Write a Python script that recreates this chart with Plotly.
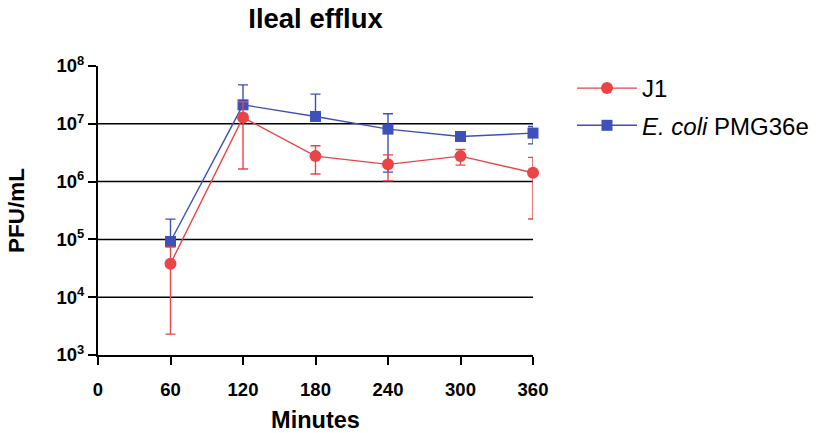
import plotly.graph_objects as go

minutes = [60, 120, 180, 240, 300, 360]

j1_mean = [3.8e4, 1.29e7, 2.76e6, 1.99e6, 2.76e6, 1.42e6]
j1_upper = [7.4e4, 2.4e7, 4.17e6, 2.9e6, 3.6e6, 2.63e6]
j1_lower = [2.3e3, 1.65e6, 1.35e6, 1.03e6, 1.93e6, 2.25e5]

ec_mean = [9.2e4, 2.13e7, 1.34e7, 8.09e6, 6.03e6, 6.9e6]
ec_upper = [2.24e5, 4.72e7, 3.26e7, 1.49e7, 6.6e6, 9.0e6]
ec_lower = [9.2e4, 2.13e7, 1.34e7, 1.46e6, 5.5e6, 4.5e6]

x_ticks = [0, 60, 120, 180, 240, 300, 360]
y_tickvals = [1e3, 1e4, 1e5, 1e6, 1e7, 1e8]
y_ticktext = ["<b>10<sup>3</sup></b>", "<b>10<sup>4</sup></b>", "<b>10<sup>5</sup></b>",
              "<b>10<sup>6</sup></b>", "<b>10<sup>7</sup></b>", "<b>10<sup>8</sup></b>"]
x_ticktext = ["<b>%d</b>" % v for v in x_ticks]
grid_vals = [1e4, 1e5, 1e6, 1e7]

RED = "#EA4446"
BLUE = "#3D51B8"
FONT = "Liberation Sans, Arial, sans-serif"

fig = go.Figure()

for g in grid_vals:
    fig.add_shape(type="line", xref="x", yref="y", x0=0, x1=360, y0=g, y1=g,
                  line=dict(color="black", width=1.5), layer="below")


def errs(mean, up, lo):
    return [u - m for u, m in zip(up, mean)], [m - l for m, l in zip(mean, lo)]

ju, jl = errs(j1_mean, j1_upper, j1_lower)
eu, el = errs(ec_mean, ec_upper, ec_lower)

fig.add_trace(go.Scatter(
    x=minutes, y=ec_mean, name="<i>E. coli</i> PMG36e", legendgroup="b",
    mode="lines+markers",
    line=dict(color=BLUE, width=1.4),
    marker=dict(symbol="square", size=11, color=BLUE),
    error_y=dict(type="data", symmetric=False, array=eu, arrayminus=el,
                 color=BLUE, thickness=1.4, width=5),
    cliponaxis=False, legendrank=2,
))
fig.add_trace(go.Scatter(
    x=minutes, y=j1_mean, name="J1", legendgroup="a",
    mode="lines+markers",
    line=dict(color=RED, width=1.4),
    marker=dict(symbol="circle", size=12, color=RED),
    error_y=dict(type="data", symmetric=False, array=ju, arrayminus=jl,
                 color=RED, thickness=1.4, width=5),
    cliponaxis=False, legendrank=1,
))

fig.update_layout(
    width=819, height=433,
    margin=dict(l=98, r=286, t=66, b=78, autoexpand=False),
    paper_bgcolor="white", plot_bgcolor="white",
    font=dict(family=FONT, color="black", size=18),
    title=dict(text="<b>Ileal efflux</b>", x=0.5, xref="paper", xanchor="center",
               y=1 - 18 / 433, yref="container", yanchor="middle",
               font=dict(size=27.5, family=FONT)),
    showlegend=True,
    legend=dict(x=572 / 819, y=1 - 66 / 433, xref="container", yref="container",
                xanchor="left", yanchor="top",
                font=dict(size=24, family=FONT), tracegroupgap=3,
                itemwidth=60, bgcolor="rgba(0,0,0,0)"),
    xaxis=dict(range=[0, 360], tickvals=x_ticks, ticktext=x_ticktext,
               ticks="outside", ticklen=8, automargin=False,
               tickwidth=2, tickcolor="black", showline=True, linecolor="black",
               linewidth=2, showgrid=False, zeroline=False,
               tickfont=dict(size=18.5), ticklabelstandoff=9,
               title=dict(text="<b>Minutes</b>", font=dict(size=23.5), standoff=17)),
    yaxis=dict(type="log", range=[3, 8], tickvals=y_tickvals, ticktext=y_ticktext,
               ticks="outside", ticklen=8, tickwidth=2, tickcolor="black",
               showline=True, linecolor="black", linewidth=2, showgrid=False,
               zeroline=False, tickfont=dict(size=18.5), automargin=False,
               title=dict(text="<b>PFU/mL</b>", font=dict(size=22.5), standoff=26)),
)

fig.write_html("out.html", config={"displayModeBar": False},
               post_script="document.body.style.margin='0';document.body.style.overflow='hidden';")
